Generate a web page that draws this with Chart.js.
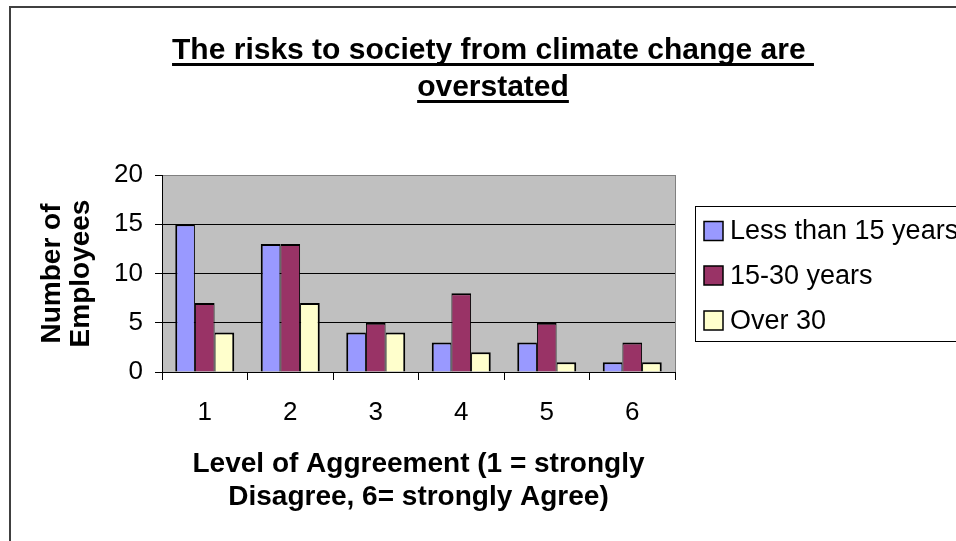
<!DOCTYPE html>
<html>
<head>
<meta charset="utf-8">
<script src="https://cdn.jsdelivr.net/npm/chart.js@4/dist/chart.umd.min.js"></script>
<style>
  html, body { margin: 0; padding: 0; background: #fff; overflow: hidden; }
  canvas { display: block; }
</style>
</head>
<body>
<canvas id="chart" width="956" height="541"></canvas>
<script>
// Survey answers by length of service
const titleLines = ['The risks to society from climate change are ', 'overstated'];
const categories = ['1', '2', '3', '4', '5', '6'];
const seriesNames = ['Less than 15 years', '15-30 years', 'Over 30'];
const lessThan15 = [15, 13, 4, 3, 3, 1];
const from15to30 = [7, 13, 5, 8, 5, 3];
const over30 = [4, 7, 4, 2, 1, 1];
const yTicks = [0, 5, 10, 15, 20];
const xAxisTitle = ['Level of Aggreement (1 = strongly', 'Disagree, 6= strongly Agree)'];
const yAxisTitle = ['Number of', 'Employees'];
const seriesColors = ['#9999FF', '#993366', '#FFFFCC'];

const FONT = '"Liberation Sans", Arial, Helvetica, sans-serif';
Chart.defaults.font.family = FONT;
Chart.defaults.color = '#000';

// outer frame and grey plot background
const framePlugin = {
  id: 'frame',
  beforeDraw(chart) {
    const { ctx, chartArea: a } = chart;
    ctx.save();
    ctx.fillStyle = '#fff';
    ctx.fillRect(0, 0, chart.width, chart.height);
    ctx.strokeStyle = '#404040';
    ctx.lineWidth = 2;
    ctx.strokeRect(10, 7, chart.width + 20, chart.height + 20);
    ctx.fillStyle = '#C0C0C0';
    ctx.fillRect(a.left, a.top, a.right - a.left, a.bottom - a.top);
    ctx.restore();
  },
  afterDraw(chart) {
    const { ctx, chartArea: a } = chart;
    ctx.save();
    ctx.strokeStyle = '#808080';
    ctx.lineWidth = 1;
    ctx.beginPath();
    ctx.moveTo(Math.round(a.right) + 0.5, a.top);
    ctx.lineTo(Math.round(a.right) + 0.5, a.bottom);
    ctx.stroke();
    ctx.restore();
  }
};

// underlined two-line heading
const headingPlugin = {
  id: 'heading',
  afterDraw(chart) {
    const { ctx } = chart;
    const cx = 493;
    const baselines = [59, 96];
    ctx.save();
    ctx.font = 'bold 30px ' + FONT;
    ctx.fillStyle = '#000';
    ctx.textAlign = 'center';
    ctx.textBaseline = 'alphabetic';
    titleLines.forEach((line, i) => {
      const w = ctx.measureText(line).width;
      ctx.fillText(line, cx, baselines[i]);
      ctx.fillRect(cx - w / 2, baselines[i] + 4, w, 3);
    });
    ctx.restore();
  }
};

// boxed legend on the right
const legendPlugin = {
  id: 'boxLegend',
  afterDraw(chart) {
    const { ctx } = chart;
    ctx.save();
    ctx.strokeStyle = '#000';
    ctx.lineWidth = 1;
    ctx.strokeRect(695.5, 206.5, 400, 135);
    ctx.font = '27px ' + FONT;
    ctx.textBaseline = 'middle';
    ctx.textAlign = 'left';
    const centers = [231, 275.5, 320.5];
    chart.data.datasets.forEach((ds, i) => {
      const cy = centers[i];
      ctx.fillStyle = ds.backgroundColor;
      ctx.fillRect(704, cy - 9.5, 19, 19);
      ctx.lineWidth = 1.5;
      ctx.strokeStyle = '#000';
      ctx.strokeRect(704, cy - 9.5, 19, 19);
      ctx.fillStyle = '#000';
      ctx.fillText(ds.label, 730, cy + 1);
    });
    ctx.restore();
  }
};

const sideBorders = [
  { top: 2, left: 2, right: 1, bottom: 0 },
  { top: 2, left: 1, right: 1, bottom: 0 },
  { top: 2, left: 1, right: 2, bottom: 0 }
];
const seriesData = [lessThan15, from15to30, over30];

new Chart(document.getElementById('chart'), {
  type: 'bar',
  data: {
    labels: categories,
    datasets: seriesNames.map((name, i) => ({
      label: name,
      data: seriesData[i],
      backgroundColor: seriesColors[i],
      borderColor: '#000',
      borderWidth: sideBorders[i],
      borderSkipped: false,
      barPercentage: 1,
      categoryPercentage: 0.69
    }))
  },
  options: {
    responsive: false,
    animation: false,
    devicePixelRatio: 1,
    layout: { padding: { left: 0, top: 175, right: 281, bottom: 0 } },
    plugins: {
      legend: { display: false },
      title: { display: false },
      tooltip: { enabled: false }
    },
    scales: {
      x: {
        offset: true,
        ticks: { font: { size: 26 }, color: '#000', padding: 17, maxRotation: 0, autoSkip: false },
        grid: { offset: true, drawOnChartArea: false, drawTicks: true, tickLength: 8, tickColor: '#000', color: '#000' },
        border: { color: '#000', width: 1 },
        title: {
          display: true, text: xAxisTitle, color: '#000',
          font: { size: 28, weight: 'bold', lineHeight: 1.18 },
          padding: { top: 0, bottom: 27 }
        },
        afterFit(scale) { scale.height = 169; }
      },
      y: {
        min: 0, max: 20,
        afterBuildTicks(scale) { scale.ticks = yTicks.map(v => ({ value: v })); },
        ticks: { font: { size: 26 }, color: '#000', padding: 12 },
        grid: {
          color: c => (c.tick && c.tick.value === 20 ? '#808080' : '#000'),
          tickColor: '#000', tickLength: 7, lineWidth: 1
        },
        border: { color: '#000', width: 1 },
        title: {
          display: true, text: yAxisTitle, color: '#000',
          font: { size: 28, weight: 'bold', lineHeight: 1.04 },
          padding: { top: 38, bottom: 0 }
        },
        afterFit(scale) { scale.width = 162; }
      }
    }
  },
  plugins: [framePlugin, headingPlugin, legendPlugin]
});
</script>
</body>
</html>
